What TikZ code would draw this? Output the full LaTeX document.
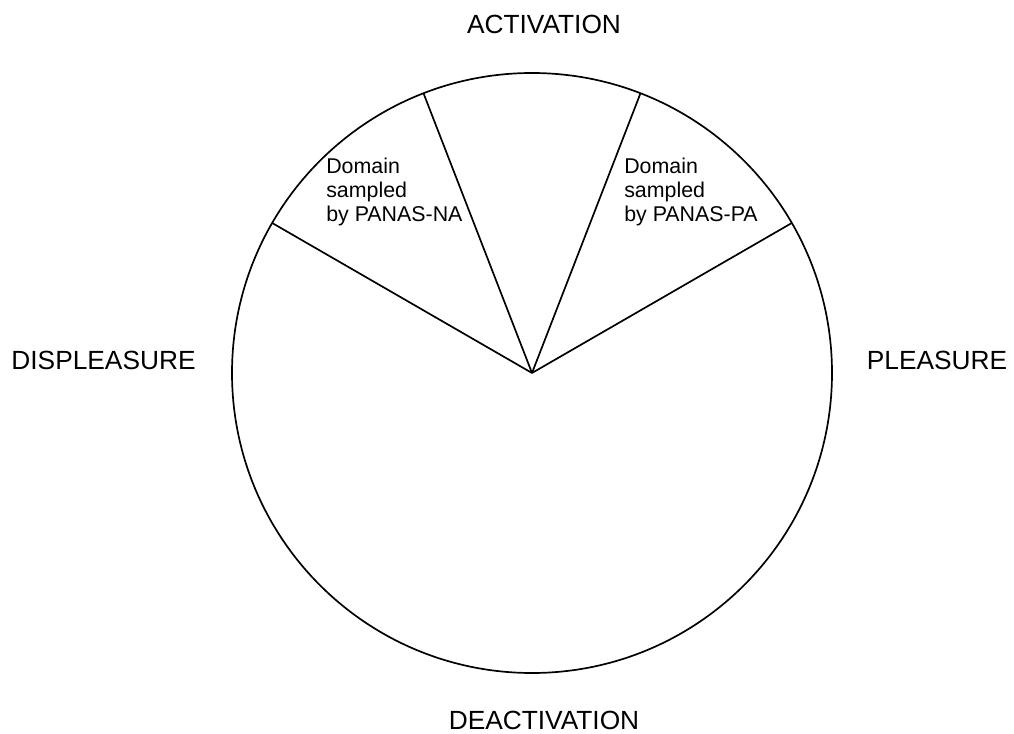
\documentclass[tikz,border=0pt]{standalone}
\usepackage{fontspec}
\setmainfont{Liberation Sans}
\usetikzlibrary{calc}

\begin{document}
\begin{tikzpicture}[x=0.025cm, y=0.025cm]
    \tikzstyle{axislabel} = [inner sep=0, font=\fontsize{18.7}{22}\selectfont, anchor=base]
    \tikzstyle{sampledtext} = [inner sep=0, anchor=north west, align=left, font=\fontsize{15.2}{17.1}\selectfont]
    \tikzstyle{rim} = [line width=1.2pt]
    \useasboundingbox (0,0) rectangle (1014,733);

    % Circle
    \coordinate (center) at (532,360);
    \draw [rim] (center) circle (300);

    % Points on the circle
    \coordinate (pleasureedge) at ($(center)+(30:300)$);
    \coordinate (paedge) at ($(center)+(68.8:300)$);
    \coordinate (naedge) at ($(center)+(111.2:300)$);
    \coordinate (displeasureedge) at ($(center)+(150:300)$);

    % Spokes
    \draw [rim] (center) -- (pleasureedge);
    \draw [rim] (center) -- (paedge);
    \draw [rim] (center) -- (naedge);
    \draw [rim] (center) -- (displeasureedge);

    % Axis labels
    \node [axislabel] (activation) at (544,699) {ACTIVATION};
    \node [axislabel] (deactivation) at (544,4) {DEACTIVATION};
    \node [axislabel] (displeasure) at (103.5,363.7) {DISPLEASURE};
    \node [axislabel] (pleasure) at (937,363.7) {PLEASURE};

    % Sampled domains
    \node [sampledtext] (na) at (326,575) {Domain\\sampled\\by PANAS-NA};
    \node [sampledtext] (pa) at (624,575) {Domain\\sampled\\by PANAS-PA};
\end{tikzpicture}
\end{document}
